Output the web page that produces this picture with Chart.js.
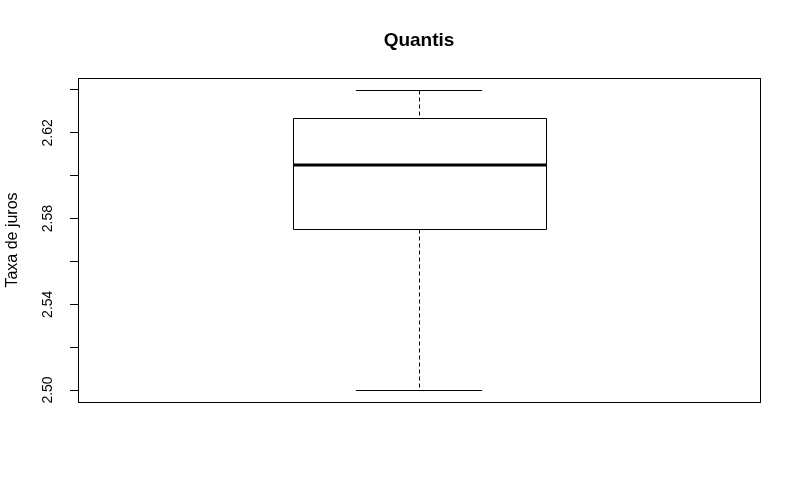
<!DOCTYPE html>
<html>
<head>
<meta charset="utf-8">
<script src="https://cdn.jsdelivr.net/npm/chart.js@4/dist/chart.umd.min.js"></script>
<style>
  html, body { margin: 0; padding: 0; background: #fff; }
  #wrap { width: 800px; height: 500px; }
</style>
</head>
<body>
<div id="wrap"><canvas id="c" width="800" height="500"></canvas></div>
<script>
// ---- data ----
const chartTitle = "Quantis";
const yAxisTitle = "Taxa de juros";
const boxStats = { min: 2.50, q1: 2.5751, median: 2.6049, q3: 2.6271, max: 2.64 };
const yTickValues = [2.50, 2.52, 2.54, 2.56, 2.58, 2.60, 2.62, 2.64];
const yTickLabels = ["2.50", "", "2.54", "", "2.58", "", "2.62", ""];
const boxPosition = 1;
const boxWidth = 0.4;
const capWidth = 0.2;

const boxPlugin = {
  id: 'boxPlugin',
  afterDatasetsDraw(chart) {
    const ctx = chart.ctx;
    const x = chart.scales.x, y = chart.scales.y;
    const a = chart.chartArea;
    ctx.save();
    ctx.strokeStyle = '#000';
    ctx.lineWidth = 1;
    // frame
    ctx.strokeRect(Math.round(a.left) + 0.5, Math.round(a.top) + 0.5,
                   Math.round(a.right - a.left), Math.round(a.bottom - a.top));
    const cx = Math.round(x.getPixelForValue(boxPosition)) + 0.5;
    const bl = x.getPixelForValue(boxPosition - boxWidth / 2);
    const br = x.getPixelForValue(boxPosition + boxWidth / 2);
    const cl = x.getPixelForValue(boxPosition - capWidth / 2);
    const cr = x.getPixelForValue(boxPosition + capWidth / 2);
    const py = v => Math.round(y.getPixelForValue(v)) + 0.5;
    // whiskers (dashed)
    ctx.setLineDash([4, 3]);
    ctx.beginPath();
    ctx.moveTo(cx, py(boxStats.max)); ctx.lineTo(cx, py(boxStats.q3));
    ctx.moveTo(cx, py(boxStats.q1)); ctx.lineTo(cx, py(boxStats.min));
    ctx.stroke();
    ctx.setLineDash([]);
    // caps
    ctx.beginPath();
    ctx.moveTo(cl, py(boxStats.max)); ctx.lineTo(cr, py(boxStats.max));
    ctx.moveTo(cl, py(boxStats.min)); ctx.lineTo(cr, py(boxStats.min));
    ctx.stroke();
    // box
    ctx.fillStyle = '#fff';
    ctx.beginPath();
    ctx.rect(Math.round(bl) + 0.5, py(boxStats.q3), Math.round(br - bl), py(boxStats.q1) - py(boxStats.q3));
    ctx.fill();
    ctx.stroke();
    // median
    ctx.lineWidth = 3;
    ctx.beginPath();
    ctx.moveTo(Math.round(bl), Math.round(y.getPixelForValue(boxStats.median)));
    ctx.lineTo(Math.round(br) + 1, Math.round(y.getPixelForValue(boxStats.median)));
    ctx.stroke();

    // tick labels (rotated)
    ctx.fillStyle = '#000';
    ctx.font = '14px "Liberation Sans", Arial, sans-serif';
    ctx.textAlign = 'center';
    ctx.textBaseline = 'middle';
    yTickValues.forEach((v, i) => {
      const lab = yTickLabels[i];
      if (!lab) return;
      ctx.save();
      ctx.translate(48, y.getPixelForValue(v));
      ctx.rotate(-Math.PI / 2);
      ctx.fillText(lab, 0, 0);
      ctx.restore();
    });
    // axis title
    ctx.font = '16px "Liberation Sans", Arial, sans-serif';
    ctx.save();
    ctx.translate(13, (a.top + a.bottom) / 2);
    ctx.rotate(-Math.PI / 2);
    ctx.fillText(yAxisTitle, 0, 0);
    ctx.restore();
    // main title
    ctx.font = 'bold 19px "Liberation Sans", Arial, sans-serif';
    ctx.textBaseline = 'alphabetic';
    ctx.fillText(chartTitle, (a.left + a.right) / 2, 46);
    ctx.restore();
  }
};

new Chart(document.getElementById('c'), {
  type: 'scatter',
  data: { datasets: [{ data: [{ x: boxPosition, y: boxStats.median }], pointRadius: 0 }] },
  options: {
    responsive: false,
    animation: false,
    layout: { padding: { left: 0, top: 78, right: 40, bottom: 98 } },
    plugins: { legend: { display: false }, title: { display: false }, tooltip: { enabled: false } },
    scales: {
      x: { type: 'linear', display: false, min: 0.46, max: 1.54 },
      y: {
        type: 'linear',
        min: 2.4944, max: 2.6456,
        afterBuildTicks: s => { s.ticks = yTickValues.map(v => ({ value: v })); },
        afterFit: s => { s.width = 78; },
        ticks: { display: false },
        border: { display: false },
        grid: { drawOnChartArea: false, drawTicks: true, tickLength: 8, color: '#000', tickColor: '#000', lineWidth: 1 }
      }
    }
  },
  plugins: [boxPlugin]
});
</script>
</body>
</html>
